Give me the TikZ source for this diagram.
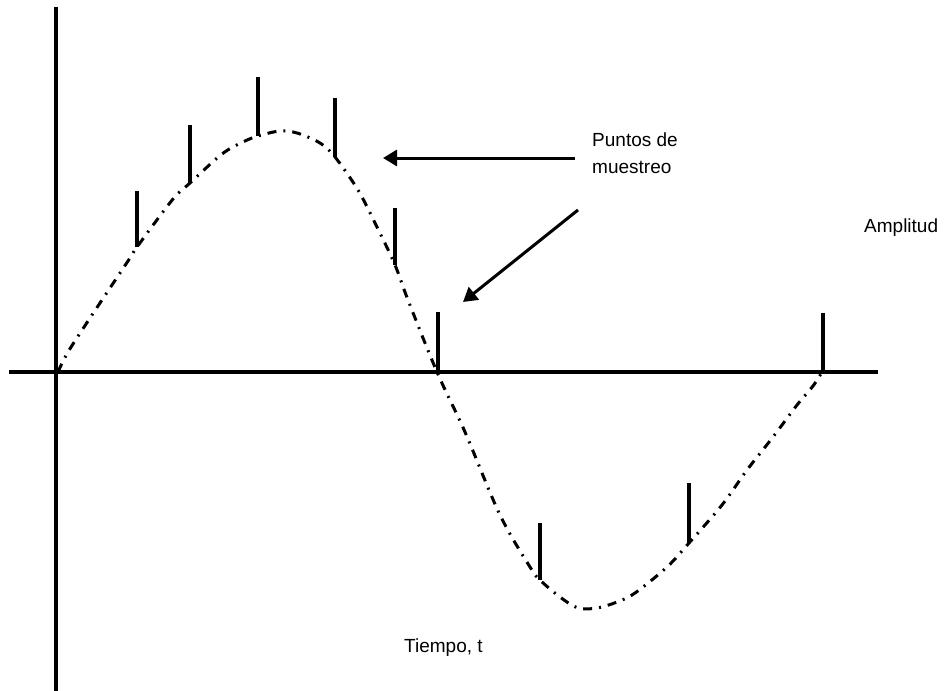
\documentclass[tikz,border=0pt]{standalone}
\usepackage{fontspec}
\setmainfont{Liberation Sans}
\usetikzlibrary{arrows.meta}
\tikzset{
  axisline/.style={line width=3.6pt},
  samplemark/.style={line width=3.2pt},
  wave/.style={line width=3pt, dash pattern=on 9pt off 7pt on 2pt off 7pt},
  pointer/.style={line width=3pt, -{Triangle[length=14pt,width=16pt]}},
  lbl/.style={font=\fontsize{19}{27}\selectfont, inner sep=0pt, align=left}
}
\begin{document}
\begin{tikzpicture}[x=1pt,y=-1pt]
\useasboundingbox (0,0) rectangle (946,691);
% axes
\coordinate (ytop) at (56,7);
\coordinate (ybot) at (56,691);
\coordinate (xl) at (9,372);
\coordinate (xr) at (878,372);
\draw[axisline] (ytop) -- (ybot);
\draw[axisline] (xl) -- (xr);
% waveform
\draw[wave] plot[smooth, tension=0.55] coordinates {
 (58,372) (68,352) (92,315) (130,258) (137,247) (173,199) (190,183)
 (222,154) (243,142) (258,136) (280,131) (297,133) (320,143) (335,157)
 (358,190) (377,227) (395,265) (408,300) (437,372) (465,432)
 (500,515) (530,567) (540,580) (560,597) (578,608) (597,608)
 (617,602) (635,593) (667,567) (689,543) (722,505) (747,470) (773,437)
 (797,405) (813,386) (822,372)};
% sample marks
\foreach \n/\x/\t/\b in {s1/137/191/247, s2/190/125/183, s3/258/77/136,
  s4/335/98/157, s5/395/208/265, s6/438/312/372, s7/540/523/580,
  s8/689/483/543, s9/823/313/372}{
  \coordinate (\n t) at (\x,\t);
  \coordinate (\n b) at (\x,\b);
  \draw[samplemark] (\n t) -- (\n b);
}
% labels
\node[lbl, anchor=base west] (puntos) at (592,173) {Puntos de\\muestreo};
\node[lbl, anchor=base west] (amp) at (864,232) {Amplitud};
\node[lbl, anchor=base west] (tiempo) at (404,652) {Tiempo, t};
% pointers
\coordinate (a1s) at (575,158);
\coordinate (a1e) at (383,158);
\coordinate (a2s) at (578,210);
\coordinate (a2e) at (463,302);
\draw[pointer] (a1s) -- (a1e);
\draw[pointer] (a2s) -- (a2e);
\end{tikzpicture}
\end{document}
